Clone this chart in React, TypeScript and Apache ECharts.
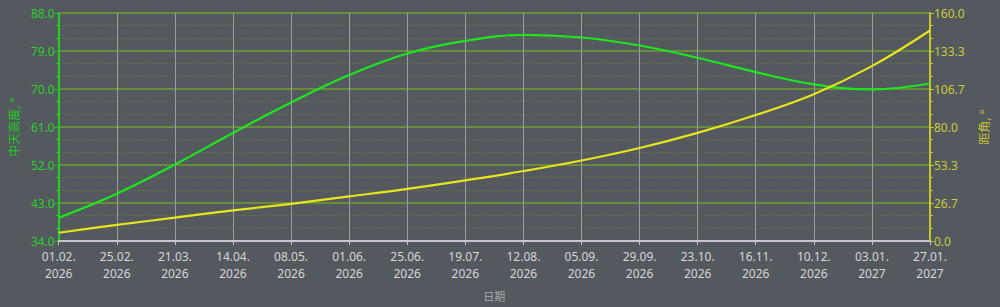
import React, { useEffect, useRef } from "react";
import * as echarts from "echarts";

// Day offsets from 01.02.2026
const altDays = [0, 24, 48, 72, 96, 120, 144, 168, 192, 216, 240, 264, 288, 312, 336, 360];
const altitude = [39.5, 45.2, 52.1, 59.6, 66.8, 73.3, 78.4, 81.4, 82.8, 82.2, 80.3, 77.4, 74.0, 71.1, 69.9, 71.3];
const elongation = [5.8, 11.3, 16.4, 21.5, 26.1, 31.3, 36.6, 42.6, 49.1, 56.5, 65.3, 75.9, 88.4, 103.0, 122.7, 147.7];

const dateLabels = [
  "01.02.\n2026", "25.02.\n2026", "21.03.\n2026", "14.04.\n2026", "08.05.\n2026",
  "01.06.\n2026", "25.06.\n2026", "19.07.\n2026", "12.08.\n2026", "05.09.\n2026",
  "29.09.\n2026", "23.10.\n2026", "16.11.\n2026", "10.12.\n2026", "03.01.\n2027",
  "27.01.\n2027",
];

const GREEN = "#1ee61e";
const YELLOW = "#e8e41c";
const MAJOR = "#6f9e2e";
const MINOR = "#62842f";
const FONT = "'Noto Sans', 'Noto Sans CJK SC', sans-serif";

export default function App() {
  const ref = useRef<HTMLDivElement>(null);
  useEffect(() => {
    if (!ref.current) return;
    const chart = echarts.init(ref.current, undefined, { renderer: "svg" });
    chart.setOption({
      animation: false,
      backgroundColor: "#54585f",
      textStyle: { fontFamily: FONT },
      grid: { left: 54, right: 70, top: 13, bottom: 63.5, containLabel: false },
      xAxis: {
        type: "value",
        min: 0,
        max: 360,
        interval: 24,
        name: "日期",
        nameLocation: "middle",
        nameGap: 50,
        nameTextStyle: { color: "#a8aaae", fontSize: 11, fontFamily: FONT },
        axisLine: { show: true, lineStyle: { color: "#c4c6c8", width: 2 } },
        axisTick: { show: true, length: 4, lineStyle: { color: "#c4c6c8" } },
        axisLabel: {
          color: "#d4d6d8",
          fontSize: 12,
          lineHeight: 17.5,
          margin: 6.5,
          fontFamily: FONT,
          formatter: (v: number) => dateLabels[Math.round(v / 24)] ?? "",
        },
        splitLine: { show: true, lineStyle: { color: "#9a9da2", width: 1 } },
      },
      yAxis: [
        {
          type: "value",
          position: "left",
          min: 34,
          max: 88,
          interval: 9,
          name: "中天高度, °",
          nameLocation: "middle",
          nameGap: 38,
          nameTextStyle: { color: "#22c822", fontSize: 12, fontFamily: FONT },
          axisLine: { show: true, lineStyle: { color: "#22d022", width: 2 } },
          axisTick: { show: true, length: 4, lineStyle: { color: "#22d022" } },
          minorTick: { show: true, splitNumber: 3, length: 3, lineStyle: { color: "#22d022" } },
          axisLabel: {
            color: "#2bd12b",
            fontSize: 12,
            lineHeight: 10,
            margin: 4,
            fontFamily: FONT,
            formatter: (v: number) => v.toFixed(1),
          },
          splitLine: { show: true, lineStyle: { color: MAJOR, width: 1.5 } },
          minorSplitLine: { show: true, lineStyle: { color: MINOR, width: 1, type: [1, 2] } },
        },
        {
          type: "value",
          position: "right",
          min: 0,
          max: 160,
          interval: 160 / 6,
          name: "距角, °",
          nameLocation: "middle",
          nameGap: 48,
          nameTextStyle: { color: "#c4c232", fontSize: 12, fontFamily: FONT },
          axisLine: { show: true, lineStyle: { color: "#c8c628", width: 2 } },
          axisTick: { show: true, length: 4, lineStyle: { color: "#c8c628" } },
          minorTick: { show: true, splitNumber: 3, length: 3, lineStyle: { color: "#c8c628" } },
          axisLabel: {
            color: "#cccb38",
            fontSize: 12,
            lineHeight: 10,
            margin: 4,
            fontFamily: FONT,
            formatter: (v: number) => v.toFixed(1),
          },
          splitLine: { show: false },
          minorSplitLine: { show: false },
        },
      ],
      series: [
        {
          type: "line",
          name: "中天高度",
          yAxisIndex: 0,
          data: altDays.map((d, i) => [d, altitude[i]]),
          smooth: 0.4,
          showSymbol: false,
          lineStyle: { color: GREEN, width: 2.2 },
          z: 3,
        },
        {
          type: "line",
          name: "距角",
          yAxisIndex: 1,
          data: altDays.map((d, i) => [d, elongation[i]]),
          smooth: 0.4,
          showSymbol: false,
          lineStyle: { color: YELLOW, width: 2.2 },
          z: 3,
        },
      ],
    });
    return () => chart.dispose();
  }, []);
  return (
    <div
      ref={ref}
      style={{ position: "absolute", left: 0, top: 0, width: 1000, height: 307 }}
    />
  );
}
